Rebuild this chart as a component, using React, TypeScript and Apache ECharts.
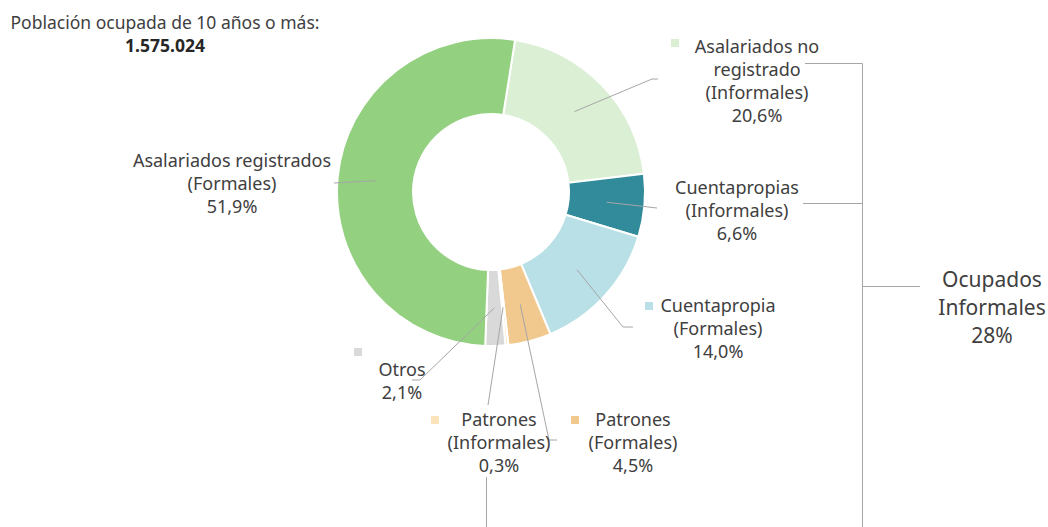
import React, { useEffect, useRef } from "react";
import * as echarts from "echarts";

// ---- data ----
const categories = [
  "Asalariados no\nregistrado\n(Informales)",
  "Cuentapropias\n(Informales)",
  "Cuentapropia\n(Formales)",
  "Patrones\n(Formales)",
  "Patrones\n(Informales)",
  "Otros",
  "Asalariados registrados\n(Formales)",
];
const shares = [20.6, 6.6, 14.0, 4.5, 0.3, 2.1, 51.9];
const sliceColors = ["#DAEFD4", "#318B9B", "#B8E0E6", "#F1C98F", "#FBE3BC", "#D9D9D9", "#93D07F"];
const titleText = "Población ocupada de 10 años o más:";
const totalText = "1.575.024";
const bracketText = "Ocupados\nInformales\n28%";

// ---- layout ----
const CX = 491;
const CY = 192;
const R_IN = 78;
const R_OUT = 154;
const START = 81;
const FONT = "Noto Sans";
const TXT = "#404040";
const LINE = "#A6A6A6";

const LABEL_LAYOUT: { x: number; y: number; line: number[][] }[] = [
  { x: 757, y: 80, line: [[652, 79], [658, 79]] },
  { x: 737, y: 210, line: [[657, 208]] },
  { x: 718, y: 328, line: [[623, 327], [633, 327]] },
  { x: 633, y: 442, line: [[549, 440], [557, 440]] },
  { x: 499, y: 442, line: [[488, 405]] },
  { x: 402, y: 380, line: [[420, 380], [412, 380]] },
  { x: 232, y: 183, line: [[334, 183]] },
];

const MARKERS: { x: number; y: number; idx: number }[] = [
  { x: 671, y: 39, idx: 0 },
  { x: 645, y: 302, idx: 2 },
  { x: 571, y: 416, idx: 3 },
  { x: 431, y: 416, idx: 4 },
  { x: 354, y: 348, idx: 5 },
];

function midPoint(i: number): number[] {
  const total = shares.reduce((a, b) => a + b, 0);
  let cum = 0;
  for (let k = 0; k < i; k++) cum += shares[k];
  const ang = ((START - (360 * (cum + shares[i] / 2)) / total) * Math.PI) / 180;
  const r = (R_IN + R_OUT) / 2;
  return [CX + r * Math.cos(ang), CY - r * Math.sin(ang)];
}

function fmt(v: number) {
  return v.toFixed(1).replace(".", ",") + "%";
}

export default function App() {
  const ref = useRef<HTMLDivElement>(null);
  useEffect(() => {
    if (!ref.current) return;
    const chart = echarts.init(ref.current, undefined, { renderer: "svg" });
    const grey = { type: "line", silent: true, style: { stroke: LINE, lineWidth: 1 } };
    const common = {
      type: "pie",
      center: [CX, CY],
      radius: [R_IN, R_OUT],
      startAngle: START,
      clockwise: true,
      avoidLabelOverlap: false,
      silent: true,
      emphasis: { disabled: true },
    };
    chart.setOption({
      animation: false,
      backgroundColor: "#ffffff",
      series: [
        {
          ...common,
          z: 2,
          itemStyle: { borderColor: "#ffffff", borderWidth: 2 },
          data: categories.map((c, i) => ({
            name: c,
            value: shares[i],
            itemStyle: { color: sliceColors[i] },
          })),
          label: { show: false },
          labelLine: { show: false },
        },
        {
          ...common,
          z: 5,
          itemStyle: { color: "rgba(0,0,0,0)", borderWidth: 0 },
          data: categories.map((c, i) => ({ name: c, value: shares[i] })),
          label: {
            show: true,
            position: "outside",
            formatter: (p: any) => `${p.name}\n${fmt(p.value)}`,
            fontFamily: FONT,
            fontSize: 18,
            lineHeight: 23,
            color: TXT,
            align: "center",
          },
          labelLine: {
            show: true,
            smooth: false,
            lineStyle: { color: LINE, width: 1 },
          },
          labelLayout: (params: any) => {
            const i = params.dataIndex;
            const L = LABEL_LAYOUT[i];
            return {
              x: L.x,
              y: L.y,
              align: "center",
              verticalAlign: "middle",
              labelLinePoints: [midPoint(i), ...L.line],
            };
          },
        },
      ],
      graphic: [
        {
          type: "text",
          silent: true,
          style: {
            text: titleText,
            x: 165,
            y: 22,
            align: "center",
            verticalAlign: "middle",
            fontFamily: FONT,
            fontSize: 17.5,
            fill: TXT,
          },
        },
        {
          type: "text",
          silent: true,
          style: {
            text: totalText,
            x: 165,
            y: 45,
            align: "center",
            verticalAlign: "middle",
            fontFamily: FONT,
            fontSize: 17.5,
            fontWeight: "bold",
            fill: "#262626",
          },
        },
        {
          type: "text",
          silent: true,
          style: {
            text: bracketText,
            x: 992,
            y: 307,
            align: "center",
            verticalAlign: "middle",
            fontFamily: FONT,
            fontSize: 21,
            lineHeight: 28,
            fill: TXT,
          },
        },
        { ...grey, shape: { x1: 805, y1: 63.5, x2: 862.5, y2: 63.5 } },
        { ...grey, shape: { x1: 803, y1: 203.5, x2: 862.5, y2: 203.5 } },
        { ...grey, shape: { x1: 862.5, y1: 63.5, x2: 862.5, y2: 527 } },
        { ...grey, shape: { x1: 862.5, y1: 286.5, x2: 920, y2: 286.5 } },
        { ...grey, shape: { x1: 486.5, y1: 477, x2: 486.5, y2: 527 } },
        ...MARKERS.map((m) => ({
          type: "rect",
          silent: true,
          shape: { x: m.x, y: m.y, width: 8, height: 8 },
          style: { fill: sliceColors[m.idx] },
        })),
      ],
    });
    return () => chart.dispose();
  }, []);
  return (
    <div
      ref={ref}
      style={{ position: "absolute", left: 0, top: 0, width: 1048, height: 527 }}
    />
  );
}
